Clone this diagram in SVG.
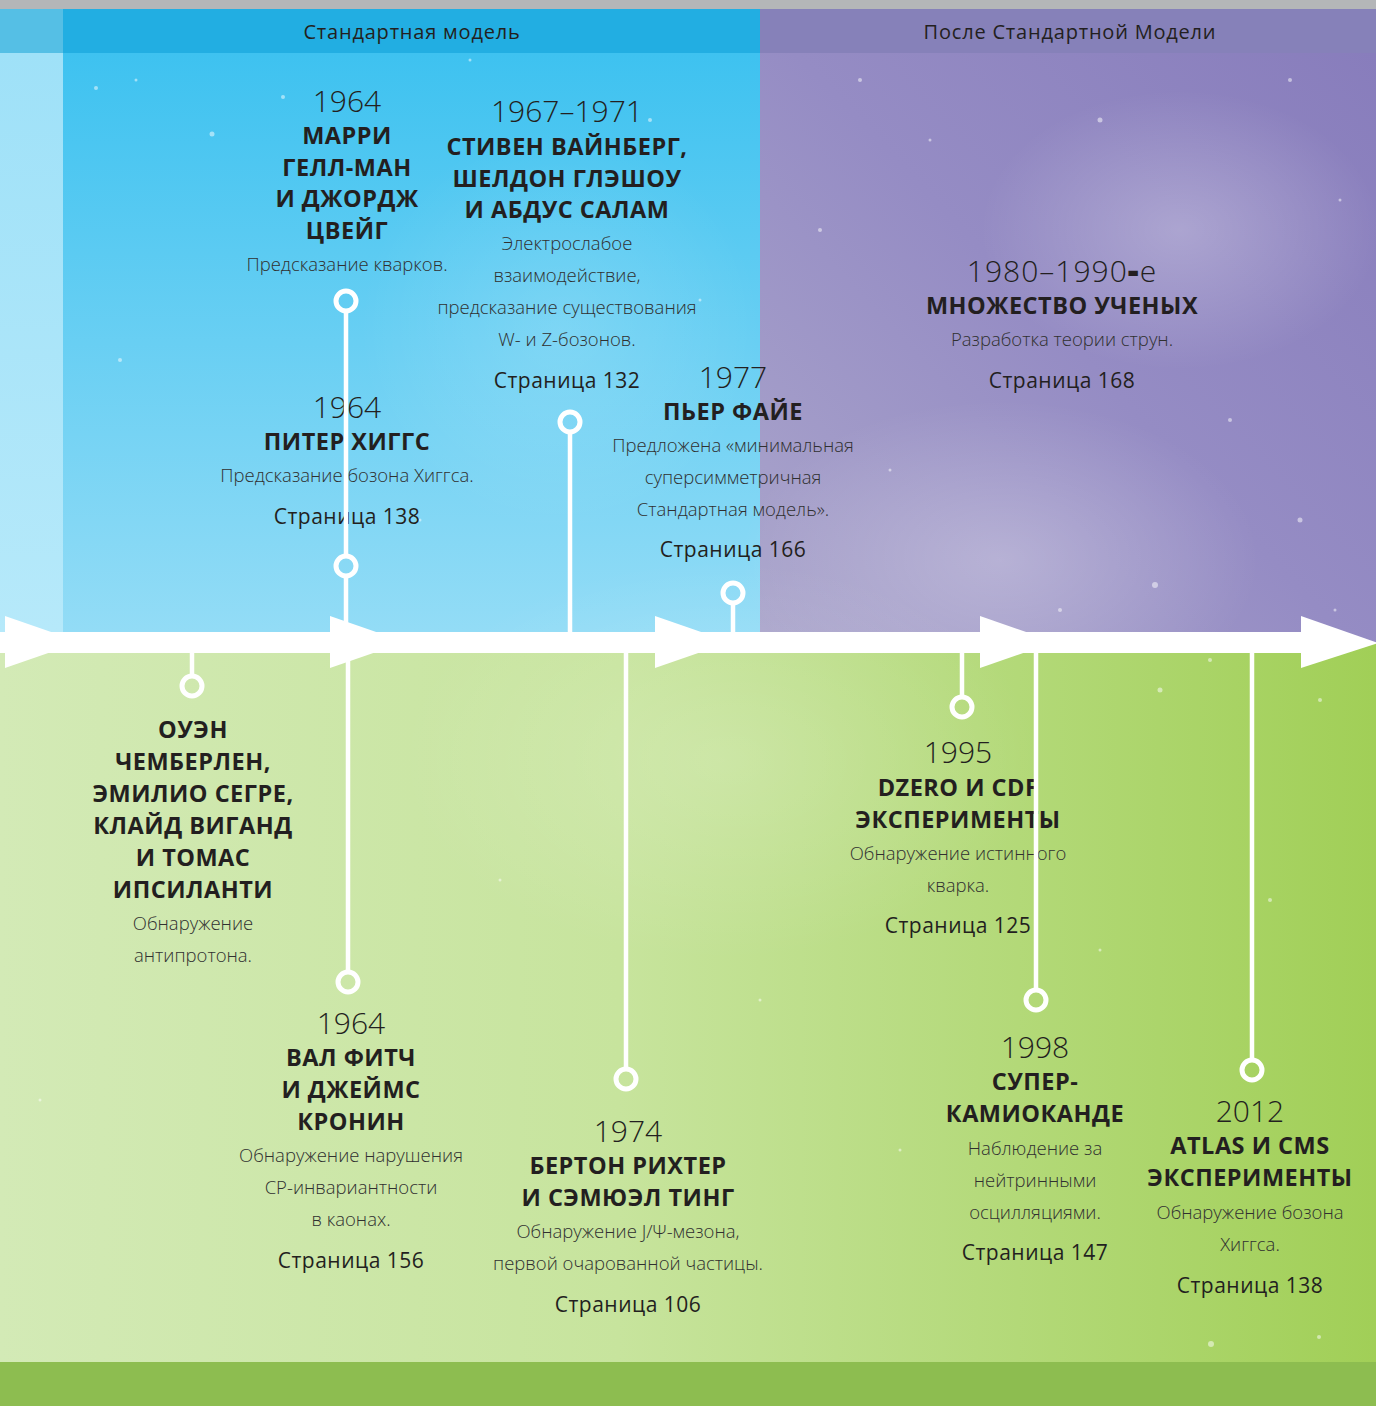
<svg xmlns="http://www.w3.org/2000/svg" width="1376" height="1406" viewBox="0 0 1376 1406">
<defs>
<linearGradient id="gBlue" x1="0" y1="53" x2="0" y2="632" gradientUnits="userSpaceOnUse">
<stop offset="0" stop-color="#3ec2f0"/><stop offset="1" stop-color="#93dcf6"/>
</linearGradient>
<linearGradient id="gLeft" x1="0" y1="53" x2="0" y2="632" gradientUnits="userSpaceOnUse">
<stop offset="0" stop-color="#9fe1f8"/><stop offset="1" stop-color="#b6e9fa"/>
</linearGradient>
<linearGradient id="gPurple" x1="760" y1="632" x2="1376" y2="53" gradientUnits="userSpaceOnUse">
<stop offset="0" stop-color="#aaa5cb"/><stop offset="0.5" stop-color="#958cc4"/><stop offset="1" stop-color="#887dbc"/>
</linearGradient>
<radialGradient id="gGlow" cx="0.5" cy="0.5" r="0.5">
<stop offset="0" stop-color="#ffffff" stop-opacity="0.25"/><stop offset="1" stop-color="#ffffff" stop-opacity="0"/>
</radialGradient>
<linearGradient id="gGreen" x1="0" y1="0" x2="1376" y2="0" gradientUnits="userSpaceOnUse">
<stop offset="0" stop-color="#d3eab6"/><stop offset="0.45" stop-color="#c7e49d"/><stop offset="1" stop-color="#a1cf57"/>
</linearGradient>
<style>
text{font-family:"Open Sans","Noto Sans","DejaVu Sans",sans-serif;text-anchor:middle;fill:#231f20}
.hdr{font-size:20px;font-weight:400;letter-spacing:0.8px}
.yr{font-size:30px;font-weight:300}
.nm{font-size:23.5px;font-weight:700;letter-spacing:0.5px}
.ds{font-size:18.5px;font-weight:300;fill:#303030}
.pg{font-size:21px;font-weight:400;letter-spacing:0.5px}
.ln{stroke:#ffffff;stroke-width:4.5;fill:none}
.dot{stroke:#ffffff;stroke-width:5;fill:none}
.star{fill:#ffffff}
</style>
</defs>

<g id="background">
<rect x="0" y="0" width="1376" height="1406" fill="#a1cf57"/>
<rect x="0" y="0" width="1376" height="9" fill="#b4b6b8"/>
<rect x="0" y="9" width="63" height="44" fill="#55bfe5"/>
<rect x="63" y="9" width="697" height="44" fill="#22aee2"/>
<rect x="760" y="9" width="616" height="44" fill="#8681b9"/>
<rect x="0" y="53" width="63" height="590" fill="url(#gLeft)"/>
<rect x="63" y="53" width="697" height="590" fill="url(#gBlue)"/>
<rect x="760" y="53" width="616" height="590" fill="url(#gPurple)"/>
<ellipse cx="1000" cy="560" rx="260" ry="160" fill="url(#gGlow)"/>
<ellipse cx="1180" cy="230" rx="200" ry="140" fill="url(#gGlow)"/>
<ellipse cx="560" cy="330" rx="200" ry="200" fill="url(#gGlow)" opacity="0.6"/>
<rect x="0" y="643" width="1376" height="719" fill="url(#gGreen)"/>
<ellipse cx="720" cy="760" rx="320" ry="200" fill="url(#gGlow)" opacity="0.7"/>
<rect x="0" y="1362" width="1376" height="44" fill="#8dbd50"/>
</g>

<g id="stars" opacity="0.5">
<circle class="star" cx="96" cy="88" r="2"/><circle class="star" cx="212" cy="134" r="2.5"/><circle class="star" cx="136" cy="80" r="1.5"/>
<circle class="star" cx="283" cy="97" r="2"/><circle class="star" cx="470" cy="60" r="1.5"/><circle class="star" cx="650" cy="120" r="2"/>
<circle class="star" cx="700" cy="300" r="1.5"/><circle class="star" cx="120" cy="360" r="2"/><circle class="star" cx="420" cy="520" r="1.5"/>
<circle class="star" cx="860" cy="80" r="2"/><circle class="star" cx="930" cy="140" r="1.5"/><circle class="star" cx="1100" cy="120" r="2.5"/>
<circle class="star" cx="1290" cy="80" r="2"/><circle class="star" cx="1340" cy="200" r="1.5"/><circle class="star" cx="820" cy="230" r="2"/>
<circle class="star" cx="1230" cy="420" r="2"/><circle class="star" cx="1300" cy="520" r="2.5"/><circle class="star" cx="890" cy="470" r="1.5"/>
<circle class="star" cx="1155" cy="585" r="3"/><circle class="star" cx="1060" cy="610" r="2"/><circle class="star" cx="1335" cy="610" r="1.5"/>
<circle class="star" cx="1210" cy="660" r="2"/><circle class="star" cx="1160" cy="690" r="2.5"/><circle class="star" cx="1320" cy="700" r="2"/>
<circle class="star" cx="1270" cy="900" r="2"/><circle class="star" cx="1100" cy="950" r="1.5"/><circle class="star" cx="1211" cy="1344" r="3"/>
<circle class="star" cx="1319" cy="1337" r="2"/><circle class="star" cx="900" cy="1150" r="1.5"/><circle class="star" cx="760" cy="1000" r="1.5"/>
<circle class="star" cx="40" cy="1100" r="1.5"/><circle class="star" cx="500" cy="880" r="1.5"/>
</g>

<g id="header">
<text class="hdr" x="412" y="39">Стандартная модель</text>
<text class="hdr" x="1070" y="39">После Стандартной Модели</text>
</g>

<g id="timeline">
<rect x="0" y="632" width="1310" height="21" fill="#ffffff"/>
<polygon points="5,616 80,642 5,668" fill="#ffffff"/>
<polygon points="330,616 405,642 330,668" fill="#ffffff"/>
<polygon points="655,616 730,642 655,668" fill="#ffffff"/>
<polygon points="980,616 1055,642 980,668" fill="#ffffff"/>
<polygon points="1301,616 1378,643 1301,668" fill="#ffffff"/>
</g>

<g id="node-gellmann">
<text class="yr" x="347" y="112">1964</text>
<text class="nm" x="347" y="144">МАРРИ</text>
<text class="nm" x="347" y="176">ГЕЛЛ-МАН</text>
<text class="nm" x="347" y="207">И ДЖОРДЖ</text>
<text class="nm" x="347" y="239">ЦВЕЙГ</text>
<text class="ds" x="347" y="271">Предсказание кварков.</text>
</g>

<g id="node-weinberg">
<text class="yr" x="567" y="122">1967–1971</text>
<text class="nm" x="567" y="155">СТИВЕН ВАЙНБЕРГ,</text>
<text class="nm" x="567" y="187">ШЕЛДОН ГЛЭШОУ</text>
<text class="nm" x="567" y="218">И АБДУС САЛАМ</text>
<text class="ds" x="567" y="250">Электрослабое</text>
<text class="ds" x="567" y="282">взаимодействие,</text>
<text class="ds" x="567" y="314">предсказание существования</text>
<text class="ds" x="567" y="346">W- и Z-бозонов.</text>
<text class="pg" x="567" y="388">Страница 132</text>
</g>

<g id="node-higgs">
<text class="yr" x="347" y="418">1964</text>
<text class="nm" x="347" y="450">ПИТЕР ХИГГС</text>
<text class="ds" x="347" y="482">Предсказание бозона Хиггса.</text>
<text class="pg" x="347" y="524">Страница 138</text>
</g>

<g id="node-fayet">
<text class="yr" x="733" y="388">1977</text>
<text class="nm" x="733" y="420">ПЬЕР ФАЙЕ</text>
<text class="ds" x="733" y="452">Предложена «минимальная</text>
<text class="ds" x="733" y="484">суперсимметричная</text>
<text class="ds" x="733" y="516">Стандартная модель».</text>
<text class="pg" x="733" y="557">Страница 166</text>
</g>

<g id="node-strings">
<text class="yr" x="1062" y="282" letter-spacing="1">1980–1990<tspan font-weight="900" font-size="34">-</tspan>е</text>
<text class="nm" x="1062" y="314">МНОЖЕСТВО УЧЕНЫХ</text>
<text class="ds" x="1062" y="346">Разработка теории струн.</text>
<text class="pg" x="1062" y="388">Страница 168</text>
</g>

<g id="node-chamberlain">
<text class="nm" x="193" y="738">ОУЭН</text>
<text class="nm" x="193" y="770">ЧЕМБЕРЛЕН,</text>
<text class="nm" x="193" y="802">ЭМИЛИО СЕГРЕ,</text>
<text class="nm" x="193" y="834">КЛАЙД ВИГАНД</text>
<text class="nm" x="193" y="866">И ТОМАС</text>
<text class="nm" x="193" y="898">ИПСИЛАНТИ</text>
<text class="ds" x="193" y="930">Обнаружение</text>
<text class="ds" x="193" y="962">антипротона.</text>
</g>

<g id="node-fitch">
<text class="yr" x="351" y="1034">1964</text>
<text class="nm" x="351" y="1066">ВАЛ ФИТЧ</text>
<text class="nm" x="351" y="1098">И ДЖЕЙМС</text>
<text class="nm" x="351" y="1130">КРОНИН</text>
<text class="ds" x="351" y="1162">Обнаружение нарушения</text>
<text class="ds" x="351" y="1194">CP-инвариантности</text>
<text class="ds" x="351" y="1226">в каонах.</text>
<text class="pg" x="351" y="1268">Страница 156</text>
</g>

<g id="node-richter">
<text class="yr" x="628" y="1142">1974</text>
<text class="nm" x="628" y="1174">БЕРТОН РИХТЕР</text>
<text class="nm" x="628" y="1206">И СЭМЮЭЛ ТИНГ</text>
<text class="ds" x="628" y="1238">Обнаружение J/Ψ-мезона,</text>
<text class="ds" x="628" y="1270">первой очарованной частицы.</text>
<text class="pg" x="628" y="1312">Страница 106</text>
</g>

<g id="node-dzero">
<text class="yr" x="958" y="763">1995</text>
<text class="nm" x="958" y="796">DZERO И CDF</text>
<text class="nm" x="958" y="828">ЭКСПЕРИМЕНТЫ</text>
<text class="ds" x="958" y="860">Обнаружение истинного</text>
<text class="ds" x="958" y="892">кварка.</text>
<text class="pg" x="958" y="933">Страница 125</text>
</g>

<g id="node-kamiokande">
<text class="yr" x="1035" y="1058">1998</text>
<text class="nm" x="1035" y="1090">СУПЕР-</text>
<text class="nm" x="1035" y="1122">КАМИОКАНДЕ</text>
<text class="ds" x="1035" y="1155">Наблюдение за</text>
<text class="ds" x="1035" y="1187">нейтринными</text>
<text class="ds" x="1035" y="1219">осцилляциями.</text>
<text class="pg" x="1035" y="1260">Страница 147</text>
</g>

<g id="node-atlas">
<text class="yr" x="1250" y="1122">2012</text>
<text class="nm" x="1250" y="1154">ATLAS И CMS</text>
<text class="nm" x="1250" y="1186">ЭКСПЕРИМЕНТЫ</text>
<text class="ds" x="1250" y="1219">Обнаружение бозона</text>
<text class="ds" x="1250" y="1251">Хиггса.</text>
<text class="pg" x="1250" y="1293">Страница 138</text>
</g>

<g id="connectors">
<line class="ln" x1="346" y1="311" x2="346" y2="556"/>
<line class="ln" x1="346" y1="576" x2="346" y2="634"/>
<circle class="dot" cx="346" cy="301" r="10"/>
<circle class="dot" cx="346" cy="566" r="10"/>
<line class="ln" x1="570" y1="432" x2="570" y2="634"/>
<circle class="dot" cx="570" cy="422" r="10"/>
<line class="ln" x1="733" y1="603" x2="733" y2="634"/>
<circle class="dot" cx="733" cy="593" r="10"/>
<line class="ln" x1="192" y1="651" x2="192" y2="676"/>
<circle class="dot" cx="192" cy="686" r="10"/>
<line class="ln" x1="348" y1="651" x2="348" y2="972"/>
<circle class="dot" cx="348" cy="982" r="10"/>
<line class="ln" x1="626" y1="651" x2="626" y2="1069"/>
<circle class="dot" cx="626" cy="1079" r="10"/>
<line class="ln" x1="962" y1="651" x2="962" y2="697"/>
<circle class="dot" cx="962" cy="707" r="10"/>
<line class="ln" x1="1036" y1="651" x2="1036" y2="990"/>
<circle class="dot" cx="1036" cy="1000" r="10"/>
<line class="ln" x1="1252" y1="651" x2="1252" y2="1060"/>
<circle class="dot" cx="1252" cy="1070" r="10"/>
</g>
</svg>
